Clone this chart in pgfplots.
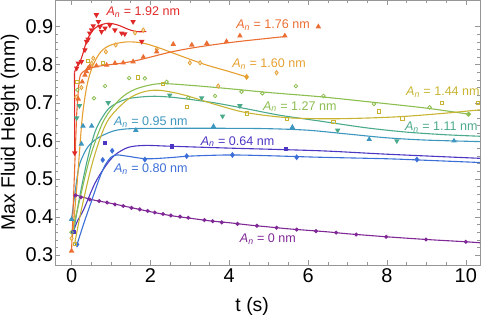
\documentclass[border=0pt]{standalone}
\usepackage{fontspec}
\setmainfont{Liberation Sans}
\usepackage{pgfplots}
\pgfplotsset{compat=1.18}
\definecolor{framegray}{RGB}{150,150,150}
\definecolor{c0}{RGB}{128,40,150}
\definecolor{c64}{RGB}{75,55,195}
\definecolor{c80}{RGB}{60,110,215}
\definecolor{c95}{RGB}{60,150,190}
\definecolor{c111}{RGB}{75,170,140}
\definecolor{c127}{RGB}{140,190,80}
\definecolor{c144}{RGB}{200,180,50}
\definecolor{c160}{RGB}{230,160,50}
\definecolor{c176}{RGB}{235,110,50}
\definecolor{c192}{RGB}{225,40,40}
\newcommand{\annfont}{\fontsize{12.6}{15}\selectfont}
\newcommand{\An}{\textit{A}\textsubscript{\textit{n}}}
\begin{document}
\begin{tikzpicture}
\begin{axis}[
 width=425bp, height=265bp, scale only axis,
 xmin=-0.42, xmax=10.36, ymin=0.274, ymax=0.97,
 axis line style={draw=framegray},
 xtick={0,2,4,6,8,10}, ytick={0.3,0.4,0.5,0.6,0.7,0.8,0.9},
 minor x tick num=3, minor y tick num=4,
 tick align=inside, major tick length=5bp, minor tick length=2.8bp,
 tick style={framegray, line width=0.5bp},
 tick label style={font=\fontsize{20}{24}\selectfont, /pgf/number format/assume math mode=true},
 yticklabel style={/pgf/number format/fixed, /pgf/number format/precision=1, /pgf/number format/fixed zerofill, inner xsep=1.5bp},
 xlabel={t (s)}, ylabel={Max Fluid Height (mm)},
 label style={font=\fontsize{19.5}{23}\selectfont},
 xlabel style={at={(axis description cs:0.464,-0.155)}, anchor=center},
 ylabel style={at={(axis description cs:-0.106,0.5)}, anchor=center},
 clip mode=individual,
 every axis plot/.append style={line width=1.1bp},
]
% ---------- curves ----------
% 0 nm
\addplot[c0, smooth, no marks] coordinates {(0.08,0.459) (0.5,0.446) (1,0.436) (1.5,0.425) (2,0.414) (2.5,0.404) (3,0.397) (3.5,0.390) (4,0.385) (4.5,0.379) (5,0.374) (5.5,0.369) (6,0.365) (6.5,0.361) (7,0.356) (7.5,0.352) (8,0.348) (9,0.341) (10,0.335) (10.4,0.332)};
% 0.64
\addplot[c64, smooth, no marks] coordinates {(0.03,0.357) (0.15,0.39) (0.3,0.418) (0.59,0.488) (0.85,0.532) (1.1,0.563) (1.44,0.583) (1.86,0.588) (2.5,0.586) (4,0.581) (6.3,0.574) (8,0.565) (10.4,0.554)};
% 0.80
\addplot[c80, smooth, no marks] coordinates {(0.14,0.328) (0.3,0.38) (0.5,0.44) (0.7,0.5) (0.85,0.536) (1.0,0.557) (1.15,0.563) (1.4,0.56) (1.9,0.553) (2.5,0.556) (3,0.56) (4,0.563) (5,0.561) (6.3,0.557) (8,0.553) (9,0.549) (10.4,0.543)};
% 0.95
\addplot[c95, smooth, no marks] coordinates {(0,0.394) (0.17,0.523) (0.3,0.563) (0.42,0.585) (0.6,0.603) (0.8,0.615) (1.1,0.627) (1.5,0.632) (2.5,0.633) (4,0.633) (5,0.632) (6,0.628) (7,0.618) (8,0.608) (9,0.602) (10.4,0.598)};
% 1.11
\addplot[c111, smooth, no marks] coordinates {(0.05,0.36) (0.2,0.45) (0.4,0.55) (0.6,0.625) (0.8,0.665) (1.0,0.69) (1.4,0.71) (2,0.717) (2.5,0.715) (3,0.709) (3.68,0.699) (4.5,0.683) (5.3,0.667) (6.3,0.652) (7.5,0.634) (8.5,0.623) (9.5,0.616) (10.4,0.612)};
% 1.27
\addplot[c127, smooth, no marks] coordinates {(0,0.36) (0.15,0.42) (0.45,0.55) (0.8,0.65) (1.2,0.707) (1.6,0.735) (2.2,0.75) (3,0.746) (4,0.737) (5,0.727) (6.3,0.716) (7.5,0.703) (9,0.686) (10.08,0.67)};
% 1.44
\addplot[c144, smooth, no marks] coordinates {(0.08,0.33) (0.25,0.42) (0.55,0.55) (0.9,0.65) (1.4,0.707) (1.8,0.728) (2.2,0.733) (2.8,0.722) (3.7,0.694) (4.44,0.674) (5.46,0.661) (6.5,0.658) (7.5,0.660) (8.4,0.664) (9.4,0.672) (10.4,0.682)};
% 1.60
\addplot[c160, smooth, no marks] coordinates {(0.02,0.344) (0.15,0.5) (0.27,0.66) (0.4,0.75) (0.55,0.8) (0.75,0.835) (1.0,0.852) (1.4,0.86) (1.8,0.857) (2.2,0.845) (2.8,0.822) (3.4,0.8) (4,0.782) (4.44,0.768)};
% 1.76
\addplot[c176, no marks] coordinates {(0,0.311) (0.13,0.67)};
\addplot[c176, smooth, no marks] coordinates {(0.13,0.67) (0.2,0.762) (0.3,0.782) (0.5,0.792) (0.8,0.798) (1.2,0.803) (1.6,0.81) (2.0,0.82) (2.5,0.833) (3,0.843) (3.5,0.851) (4,0.858) (4.5,0.864) (5.41,0.874)};
% 1.92
\addplot[c192, no marks] coordinates {(0.08,0.568) (0.075,0.78)};
\addplot[c192, smooth, no marks] coordinates {(0.075,0.78) (0.13,0.795) (0.21,0.806) (0.29,0.83) (0.38,0.861) (0.51,0.887) (0.68,0.902) (0.93,0.909) (1.18,0.904) (1.44,0.893) (1.65,0.887) (1.9,0.887)};
% ---------- markers ----------
\addplot[only marks, mark=*, mark size=1.4bp, c0] coordinates {(0.1,0.457) (0.24,0.452) (0.46,0.446) (0.7,0.442) (0.9,0.438) (1.1,0.433) (1.31,0.429) (1.52,0.424) (1.73,0.42) (1.93,0.416) (2.11,0.412) (2.32,0.408) (2.52,0.404) (2.75,0.401) (2.96,0.398) (3.37,0.392) (3.58,0.389) (3.81,0.386) (4.21,0.382) (4.7,0.377) (5.2,0.372) (5.71,0.367) (6.2,0.363) (6.71,0.359) (7.22,0.354) (7.98,0.348) (8.99,0.341) (10.0,0.335)};
\addplot[only marks, mark=square*, mark size=1.6bp, c64] coordinates {(0.05,0.36) (0.85,0.595) (2.54,0.585) (5.44,0.579)};
\addplot[only marks, mark=diamond*, mark size=2.1bp, c80] coordinates {(0.14,0.328) (0.79,0.55) (1.03,0.574) (1.86,0.551) (2.92,0.56) (4.08,0.563) (5.71,0.557) (8.76,0.551)};
\addplot[only marks, mark=triangle*, mark size=2.1bp, c95] coordinates {(0,0.394) (0.25,0.592) (0.29,0.639) (0.51,0.639) (1.63,0.628) (3.6,0.638) (5.6,0.636) (7.55,0.604) (9.7,0.60)};
\addplot[only marks, mark=triangle*, mark size=2.1bp, mark options={rotate=180}, c111] coordinates {(0.13,0.66) (0.2,0.692) (0.93,0.70) (2.49,0.72) (3.3,0.713) (3.83,0.665) (4.27,0.692) (6.75,0.628) (8.25,0.60)};
\addplot[only marks, mark=o, mark size=1.8bp, mark options={line width=0.8bp}, c127] coordinates {(0,0.36) (0.15,0.734) (0.57,0.712) (0.85,0.744) (1.46,0.765) (1.86,0.764) (2.41,0.755) (2.96,0.713) (3.64,0.718) (4.31,0.729) (4.84,0.725) (5.69,0.744) (6.39,0.718) (7.67,0.697) (9.08,0.688)};
\addplot[only marks, mark=*, mark size=1.9bp, c127] coordinates {(10.07,0.670)};
\addplot[only marks, mark=square, mark size=1.7bp, mark options={line width=0.8bp}, c144] coordinates {(0.08,0.33) (0.15,0.755) (0.42,0.81) (0.8,0.805) (1.69,0.767) (2.31,0.749) (2.92,0.69) (4.44,0.672) (5.46,0.657) (6.64,0.65) (7.8,0.677) (8.39,0.659) (9.39,0.70) (10.3,0.70)};
\addplot[only marks, mark=diamond*, mark size=2.2bp, mark options={fill=c160!35, line width=0.7bp}, c160] coordinates {(0.0,0.344) (0.12,0.715) (0.25,0.74) (0.51,0.804) (0.55,0.817) (0.87,0.834) (1.12,0.852) (1.61,0.884) (1.82,0.891) (2.16,0.841) (3.0,0.805) (3.26,0.805) (3.72,0.744) (5.2,0.779)};
\addplot[only marks, mark=diamond*, mark size=2.2bp, c160] coordinates {(4.44,0.768)};
\addplot[only marks, mark=triangle*, mark size=2.1bp, c176] coordinates {(0,0.311) (0.17,0.71) (0.27,0.755) (0.34,0.773) (0.38,0.782) (0.42,0.791) (0.46,0.795) (0.63,0.797) (0.89,0.799) (1.10,0.804) (1.31,0.805) (1.56,0.808) (1.82,0.82) (2.16,0.834) (2.58,0.854) (3.05,0.852) (3.43,0.856) (3.93,0.861) (4.27,0.876) (5.41,0.876) (6.26,0.90)};
\addplot[only marks, mark=triangle*, mark size=2.1bp, mark options={rotate=180}, c192] coordinates {(0.08,0.568) (0.63,0.931) (0.17,0.804) (0.13,0.791) (0.25,0.808) (0.34,0.839) (0.38,0.861) (0.42,0.867) (0.46,0.883) (0.51,0.891) (0.55,0.902) (0.68,0.913) (0.72,0.900) (0.76,0.887) (0.85,0.896) (0.97,0.904) (1.10,0.891) (1.27,0.883) (1.35,0.881) (1.56,0.913) (1.78,0.861)};
% ---------- labels ----------
\node[text=c192, font=\annfont] at (axis cs:1.82,0.939) {\An{} = 1.92 nm};
\node[text=c176, font=\annfont] at (axis cs:5.11,0.903) {\An{} = 1.76 nm};
\node[text=c160, font=\annfont] at (axis cs:5.01,0.802) {\An{} = 1.60 nm};
\node[text=c144, font=\annfont] at (axis cs:9.42,0.728) {\An{} = 1.44 nm};
\node[text=c127, font=\annfont] at (axis cs:5.79,0.690) {\An{} = 1.27 nm};
\node[text=c111, font=\annfont] at (axis cs:9.38,0.636) {\An{} = 1.11 nm};
\node[text=c95, font=\annfont] at (axis cs:2.01,0.650) {\An{} = 0.95 nm};
\node[text=c64, font=\annfont] at (axis cs:4.21,0.598) {\An{} = 0.64 nm};
\node[text=c80, font=\annfont] at (axis cs:2.01,0.525) {\An{} = 0.80 nm};
\node[text=c0, font=\annfont] at (axis cs:4.98,0.341) {\An{} = 0 nm};
\end{axis}
\pgfresetboundingbox
\path (-55bp,-50bp) rectangle (428bp,265bp);
\end{tikzpicture}
\end{document}
